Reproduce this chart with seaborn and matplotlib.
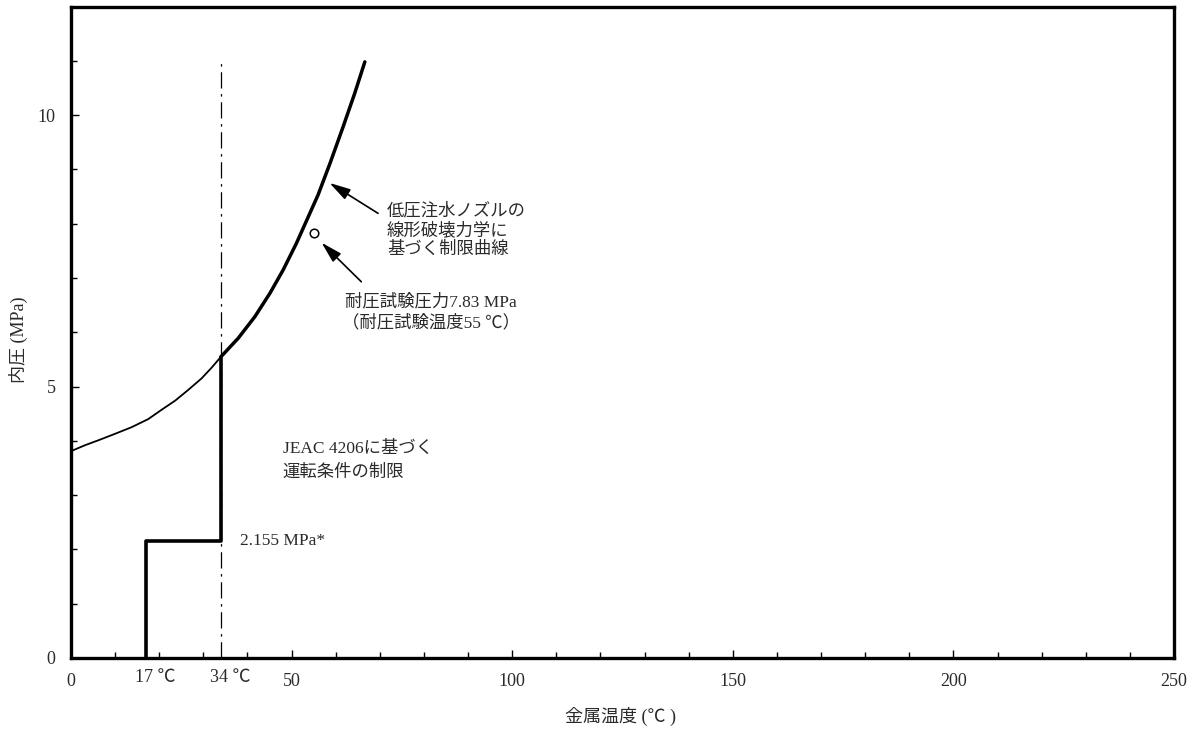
import matplotlib
matplotlib.use("Agg")
import matplotlib.pyplot as plt
import seaborn as sns
from matplotlib.ticker import MultipleLocator

# ---- data ----
curve_thin_x = [0.0, 3.2, 6.2, 10.0, 13.7, 17.5, 20.5, 23.6, 26.6, 29.6, 31.9, 34.0]
curve_thin_y = [3.81, 3.92, 4.01, 4.13, 4.25, 4.40, 4.57, 4.74, 4.94, 5.15, 5.35, 5.55]
curve_thick_x = [34.0, 37.9, 41.7, 45.1, 48.1, 51.1, 53.8, 56.0, 58.7, 61.7, 64.3, 66.6]
curve_thick_y = [5.55, 5.89, 6.29, 6.72, 7.15, 7.64, 8.13, 8.53, 9.11, 9.79, 10.40, 10.98]
step_x = [17, 17, 34, 34]
step_y = [0.0, 2.155, 2.155, 5.55]
ref_x = [34, 34]
ref_y = [0.0, 11.0]
test_x = [55]
test_y = [7.83]
x_ticks = [0, 50, 100, 150, 200, 250]
y_ticks = [0, 5, 10]
temp_marks = [17, 34]
temp_labels = ["17 ℃", "34 ℃"]

sns.set_style("ticks")
plt.rcParams["font.family"] = ["Liberation Serif", "Noto Sans CJK JP"]
plt.rcParams["axes.unicode_minus"] = False

TXT = "#2a2a2a"
fig = plt.figure(figsize=(11.97, 7.31), dpi=100)
ax = fig.add_axes([71 / 1197, 1 - 658 / 731, (1174 - 71) / 1197, (658 - 6.5) / 731])

kw = dict(ax=ax, color="black", sort=False, estimator=None, errorbar=None)
sns.lineplot(x=curve_thin_x, y=curve_thin_y, lw=1.3, **kw)
sns.lineplot(x=curve_thick_x, y=curve_thick_y, lw=2.5, **kw)
sns.lineplot(x=step_x, y=step_y, lw=2.6, **kw)
sns.lineplot(x=ref_x, y=ref_y, lw=0.9, linestyle=(0, (13, 4.5, 2, 4.5)), **kw)
sns.scatterplot(x=test_x, y=test_y, ax=ax, marker="o", s=38, facecolor="white",
                edgecolor="black", linewidth=1.1, zorder=5)

ax.set_xlim(0, 250)
ax.set_ylim(0, 12)
ax.set_xticks(x_ticks)
ax.set_yticks(y_ticks)
ax.xaxis.set_minor_locator(MultipleLocator(10))
ax.yaxis.set_minor_locator(MultipleLocator(1))
ax.tick_params(which="both", direction="in", color="black", width=1.0,
               labelsize=13, labelcolor=TXT, pad=11)
ax.tick_params(which="major", length=6)
ax.tick_params(which="minor", length=4)
for s in ax.spines.values():
    s.set_linewidth(2.4)
    s.set_color("black")

for xv, lab in zip(temp_marks, temp_labels):
    ax.annotate(lab, xy=(xv, 0), xycoords="data", xytext=(-11, -19),
                textcoords="offset pixels", ha="left", va="center",
                fontsize=13, color=TXT, annotation_clip=False)

ax.set_xlabel("金属温度 (℃ )", fontsize=13, color=TXT)
ax.xaxis.label.set_va("center")
ax.xaxis.set_label_coords(0.498, -0.0905)
ax.set_ylabel("内圧 (MPa)", fontsize=13, color=TXT)
ax.yaxis.label.set_va("center")
ax.yaxis.set_label_coords(-0.048, 0.488)

arrow = dict(arrowstyle="-|>,head_length=0.8,head_width=0.22", color="black",
             lw=1.2, mutation_scale=16, shrinkA=0, shrinkB=0)
ax.annotate("", xy=(58.6, 8.75), xytext=(69.6, 8.19), arrowprops=arrow)
ax.annotate("", xy=(56.8, 7.65), xytext=(65.8, 6.93), arrowprops=arrow)

ax.text(71.6, 8.38, "低圧注水ノズルの\n線形破壊力学に\n基づく制限曲線", ha="left", va="top",
        fontsize=12.5, color=TXT, linespacing=1.19)
ax.text(81.5, 6.70, "耐圧試験圧力7.83 MPa\n（耐圧試験温度55 ℃）", ha="center", va="top",
        multialignment="center", fontsize=12.5, color=TXT, linespacing=1.27)
ax.text(48.0, 4.01, "JEAC 4206に基づく\n運転条件の制限", ha="left", va="top",
        fontsize=12.5, color=TXT, linespacing=1.66)
ax.text(38.3, 2.155, "2.155 MPa*", ha="left", va="center", fontsize=12.5, color=TXT)

fig.savefig("out.png", dpi=100, facecolor="white")
